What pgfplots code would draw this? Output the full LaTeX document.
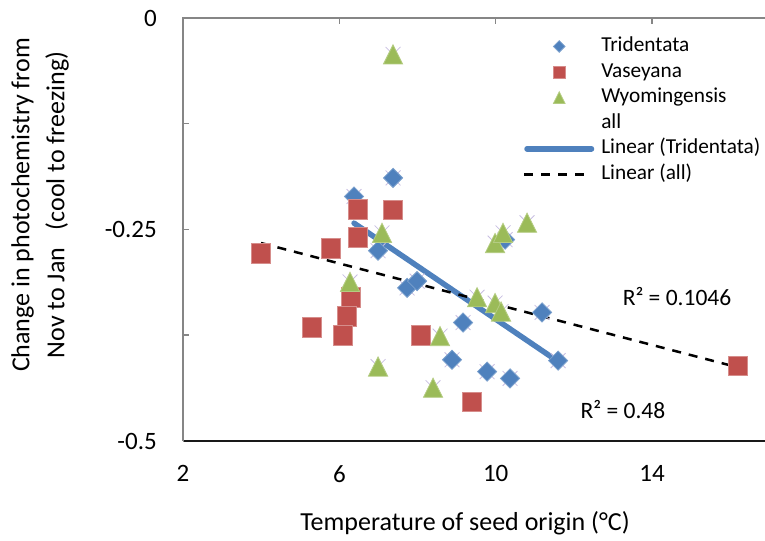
\documentclass[border=0pt]{standalone}
\usepackage{fontspec}
\setmainfont{Carlito}
\usepackage{pgfplots}
\usepackage{pgfplotstable}
\pgfplotsset{compat=1.18}
\usetikzlibrary{plotmarks}

\definecolor{tblue}{HTML}{4F81BD}
\definecolor{vred}{HTML}{C0504D}
\definecolor{wgreen}{HTML}{9BBB59}
\definecolor{axgray}{HTML}{868686}
\definecolor{lav}{RGB}{200,190,225}

\newcommand\tickfont{\fontsize{25bp}{30bp}\selectfont}
\newcommand\titlefont{\fontsize{26bp}{35bp}\selectfont}
\newcommand\legfont{\fontsize{21.3bp}{25bp}\selectfont}
\newcommand\ratiofont{\fontsize{23.5bp}{28bp}\selectfont}

\pgfdeclareplotmark{xldia}{%
 \pgfpathmoveto{\pgfqpoint{0pt}{\pgfplotmarksize}}%
 \pgfpathlineto{\pgfqpoint{\pgfplotmarksize}{0pt}}%
 \pgfpathlineto{\pgfqpoint{0pt}{-\pgfplotmarksize}}%
 \pgfpathlineto{\pgfqpoint{-\pgfplotmarksize}{0pt}}%
 \pgfpathclose\pgfusepathqfillstroke}
\pgfdeclareplotmark{xltri}{%
 \pgfpathmoveto{\pgfqpoint{0pt}{\pgfplotmarksize}}%
 \pgfpathlineto{\pgfqpoint{\pgfplotmarksize}{-\pgfplotmarksize}}%
 \pgfpathlineto{\pgfqpoint{-\pgfplotmarksize}{-\pgfplotmarksize}}%
 \pgfpathclose\pgfusepathqfillstroke}

\pgfplotsset{
 markleg/.style={legend image code/.code={\draw[##1,mark size=#1] plot coordinates {(35bp,0)};}},
 blueleg/.style={legend image code/.code={\draw[##1] (2.75bp,0) -- (67.25bp,0);}},
 dashleg/.style={legend image code/.code={\draw[##1] (0bp,0) -- (63bp,0);}},
 emptyleg/.style={legend image code/.code={}},
 allx/.style={only marks, mark=x, mark size=10.5bp,
   mark options={draw=lav, line width=0.8bp}, forget plot},
}

\pgfplotstableread{
x y
6.376 -0.211
7.374 -0.189
6.990 -0.275
7.732 -0.319
7.988 -0.311
9.165 -0.360
8.883 -0.404
9.779 -0.418
10.367 -0.426
11.186 -0.348
11.596 -0.405
10.240 -0.262
}\tri
\pgfplotstableread{
x y
3.996 -0.278
5.787 -0.272
6.478 -0.226
7.374 -0.227
6.478 -0.259
6.299 -0.330
6.197 -0.353
6.094 -0.375
5.301 -0.366
8.090 -0.375
9.395 -0.454
16.201 -0.411
}\vas
\pgfplotstableread{
x y
7.374 -0.043
7.092 -0.254
6.273 -0.312
6.990 -0.412
8.576 -0.376
8.397 -0.437
9.984 -0.266
10.188 -0.254
10.802 -0.242
9.523 -0.330
9.984 -0.337
10.137 -0.347
}\wyo

\begin{document}
\begin{tikzpicture}
\useasboundingbox (-183bp,-100bp) rectangle (582bp,441bp);
\begin{axis}[
 at={(0,0)}, anchor=south west,
 scale only axis, width=582bp, height=423bp,
 xmin=2, xmax=16.89, ymin=-0.5, ymax=0,
 axis line style={draw=none},
 xtick={2,6,10,14}, xticklabels={2,6,10,14},
 ytick={-0.5,-0.375,-0.25,-0.125,0}, yticklabels={-0.5,,-0.25,,0},
 tick align=inside, xtick pos=right, ytick pos=left,
 xticklabel pos=left, yticklabel pos=left,
 major tick length=6.5bp,
 tick style={draw=axgray, line width=1.5bp},
 minor tick num=0,
 ticklabel style={font=\tickfont, inner sep=0pt},
 yticklabel style={anchor=east, xshift=-26bp},
 xticklabel style={anchor=north, yshift=-24bp},
 legend cell align=left,
 legend style={at={(0.5842,0.9631)}, anchor=north west, draw=none, fill=none,
   inner sep=0pt, outer sep=0pt, column sep=7bp, row sep=0pt, font=\legfont,
   nodes={inner xsep=0pt, inner ysep=1.8bp, text height=16bp, text depth=6bp}},
]
% series "all" (light crosses behind every point)
\addplot[allx] table {\tri};
\addplot[allx] table {\vas};
\addplot[allx] table {\wyo};
\addplot[only marks, mark=xldia, mark size=9.6bp,
  mark options={fill=tblue, draw=tblue!75!white, line width=0.8bp},
  markleg=5.8bp] table {\tri};
\addlegendentry{Tridentata}
\addplot[only marks, mark=square*, mark size=9.8bp,
  mark options={fill=vred, draw=vred!65!white, line width=0.8bp},
  markleg=6bp] table {\vas};
\addlegendentry{Vaseyana}
\addplot[only marks, mark=xltri, mark size=9.6bp,
  mark options={fill=wgreen, draw=wgreen!75!white, line width=0.8bp},
  markleg=5.8bp] table {\wyo};
\addlegendentry{Wyomingensis}
\addlegendimage{emptyleg}
\addlegendentry{all}
\addplot[tblue, line width=5.5bp, line cap=round, blueleg]
  coordinates {(6.376,-0.2425) (11.596,-0.406)};
\addlegendentry{Linear (Tridentata)}
\addplot[black, line width=2.5bp, dash pattern=on 9bp off 8bp, dashleg]
  coordinates {(3.996,-0.266) (16.201,-0.413)};
\addlegendentry{Linear (all)}
\end{axis}
\draw[axgray, line width=1.8bp] (0,0) -- (0,423bp);
\draw[axgray, line width=1.8bp] (-0.9bp,423bp) -- (582bp,423bp);
\draw[black!90, line width=2.7bp] (1bp,0) -- (582bp,0);
\node[font=\ratiofont] at (494bp,144bp) {R² = 0.1046};
\node[font=\ratiofont] at (440bp,31bp) {R² = 0.48};
\node[font=\titlefont] at (282bp,-82bp) {Temperature of seed origin (°C)};
\node[font=\titlefont, rotate=90, align=center] at (-143bp,236bp)
  {Change in photochemistry from\\Nov to Jan\ \ \ (cool to freezing)};
\end{tikzpicture}
\end{document}
